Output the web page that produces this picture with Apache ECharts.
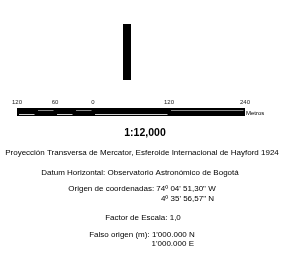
<!DOCTYPE html>
<html>
<head>
<meta charset="utf-8">
<script src="https://cdn.jsdelivr.net/npm/echarts@6/dist/echarts.min.js"></script>
<style>
  html, body { margin: 0; padding: 0; background: #fff; }
  #chart { width: 291px; height: 255px; }
</style>
</head>
<body>
<div id="chart"></div>
<script>
// scale bar, in metres
const tickValues = [-120, -60, 0, 120, 240];
const segStart = [-120, -90, -60, -30, 0, 120];
const segEnd = [-90, -60, -30, 0, 120, 240];
const stripeRow = [0.3, 0.75, 0.3, 0.75, 0.3, 0.75]; // bottom / top alternating
const unitLabel = 'Metros';
const scaleText = '1:12,000';
const projText = 'Proyección Transversa de Mercator, Esferoide Internacional de Hayford 1924';
const datumText = 'Datum Horizontal: Observatorio Astronómico de Bogotá';
const originLines = ['Origen de coordenadas: 74º 04\' 51,30" W', '4º 35\' 56,57" N'];
const factorText = 'Factor de Escala: 1,0';
const falseLines = ['Falso origen (m): 1\'000.000 N', '1\'000.000 E'];

const chart = echarts.init(document.getElementById('chart'));
const font = 'Liberation Sans, Arial, sans-serif';

function txt(text, x, y, align, size, weight) {
  return {
    type: 'text', x: x, y: y,
    style: {
      text: text, textAlign: align || 'center', textVerticalAlign: 'middle',
      fontSize: size || 8, fontFamily: font, fontWeight: weight || 'normal', fill: '#000'
    }
  };
}

let option = {
  animation: false,
  grid: { left: 17, right: 46, top: 108, height: 8 },
  xAxis: {
    type: 'value', min: -120, max: 240, position: 'top',
    axisLine: { show: false }, axisTick: { show: false }, splitLine: { show: false },
    axisLabel: {
      customValues: tickValues,
      formatter: v => String(Math.abs(v)),
      fontSize: 6, margin: 3, color: '#222', fontFamily: font
    }
  },
  yAxis: { type: 'value', min: 0, max: 1, show: false },
  series: [
    {
      type: 'custom',
      data: [[segStart[0], segEnd[segEnd.length - 1]]],
      renderItem: (params, api) => {
        const p0 = api.coord([api.value(0), 1]);
        const p1 = api.coord([api.value(1), 0]);
        return { type: 'rect', shape: { x: p0[0], y: p0[1], width: p1[0] - p0[0], height: p1[1] - p0[1] }, style: { fill: '#000' } };
      }
    },
    {
      type: 'custom',
      data: segStart.map((s, i) => [s, segEnd[i], stripeRow[i]]),
      renderItem: (params, api) => {
        const a = api.coord([api.value(0), api.value(2)]);
        const b = api.coord([api.value(1), api.value(2)]);
        const y = Math.round(a[1]) + 0.5;
        const top = api.value(2) > 0.5;
        return {
          type: 'line',
          shape: { x1: a[0] + 2, y1: y, x2: b[0] - 1.5, y2: y },
          style: { stroke: top ? '#8a8a8a' : '#d0d0d0', lineWidth: 1 }
        };
      }
    }
  ],
  graphic: [
    { type: 'rect', shape: { x: 123, y: 24, width: 8, height: 56 }, style: { fill: '#000' } },
    txt(unitLabel, 246, 113, 'left', 6),
    txt(scaleText, 145, 133, 'center', 10.5, 'bold'),
    txt(projText, 142, 153),
    txt(datumText, 140, 173),
    txt(originLines[0], 142, 189),
    txt(originLines[1], 214, 199, 'right'),
    txt(factorText, 143, 218),
    txt(falseLines[0], 142, 235),
    txt(falseLines[1], 194, 244, 'right')
  ]
};
chart.setOption(option, true);
</script>
</body>
</html>
